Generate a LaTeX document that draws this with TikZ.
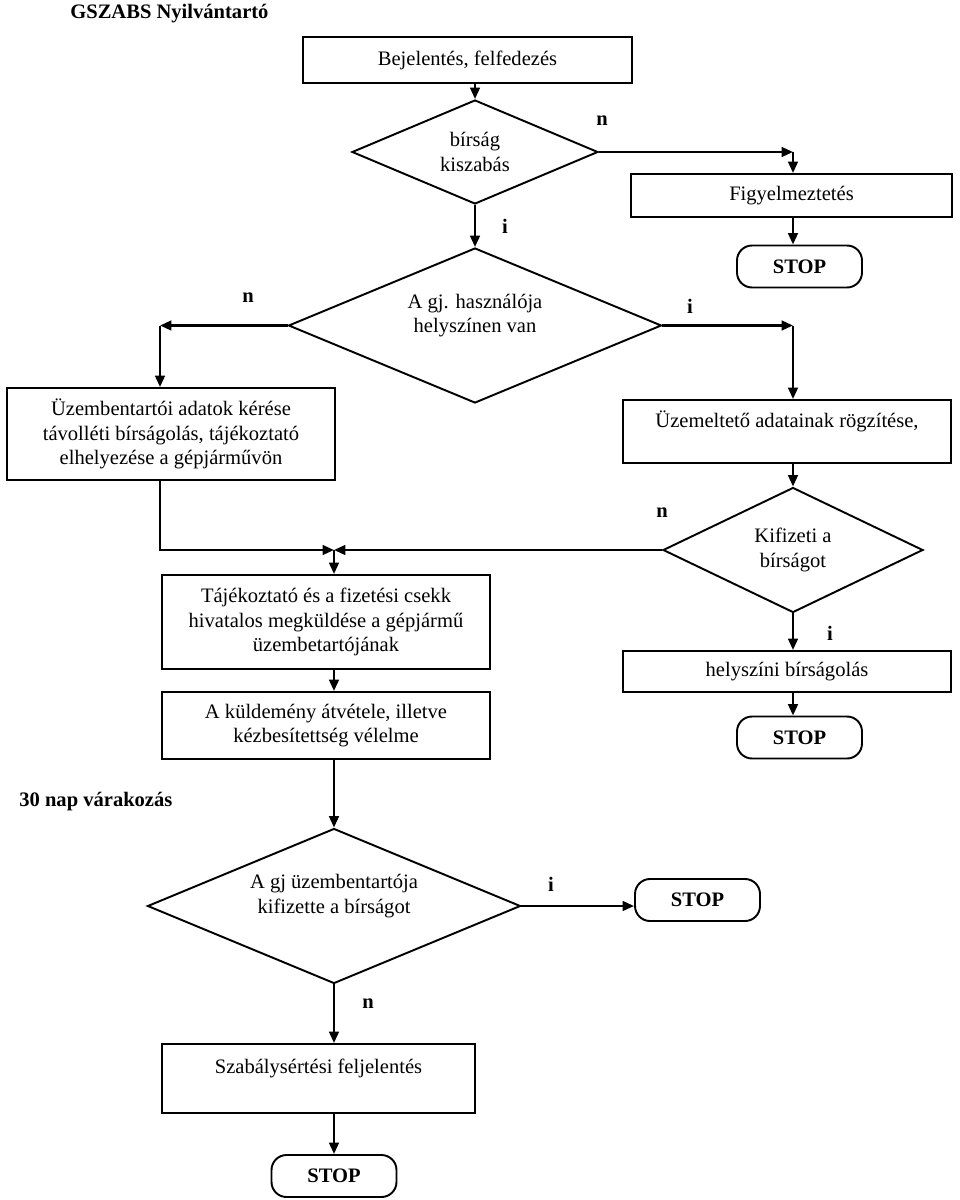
\documentclass[tikz,border=0pt]{standalone}
\usepackage{fontspec}
\setmainfont{Liberation Serif}
\usetikzlibrary{arrows.meta,shapes.geometric}

\begin{document}
\begin{tikzpicture}[x=0.02cm,y=-0.02cm,>={Triangle[length=6.5pt,width=5.5pt]},
font=\fontsize{11.7}{13.9}\selectfont,
box/.style 2 args={draw,line width=1.1pt,minimum width=#1*0.02cm,minimum height=#2*0.02cm,align=center,inner sep=0pt},
dia/.style 2 args={draw,diamond,aspect=2.4,line width=1.1pt,minimum width=#1*0.02cm,minimum height=#2*0.02cm,align=center,inner sep=0pt},
stopbox/.style={draw,line width=1.1pt,rounded corners=0.3cm,minimum width=2.5cm,minimum height=0.84cm,font=\fontsize{11.7}{13.9}\selectfont\bfseries},
yn/.style={font=\fontsize{11.7}{13.9}\selectfont\bfseries,inner sep=0pt},
arr/.style={line width=1.4pt,->}]
\useasboundingbox (0,0) rectangle (960,1200);
\node[yn,anchor=west] (title) at (70,14) {GSZABS Nyilvántartó};
\node[box={329}{46}] (b1) at (467.5,60) {Bejelentés, felfedezés};
\node[dia={246}{104}] (d1) at (475,152) {bírság\\kiszabás};
\node[box={321}{43}] (fig) at (791.5,195.5) {Figyelmeztetés};
\node[stopbox] (s1) at (799.5,266.5) {STOP};
\node[dia={373}{155}] (d2) at (475,325.5) {A gj. használója\\helyszínen van\\\mbox{}};
\node[box={328}{92}] (lbox) at (171,434) {Üzembentartói adatok kérése\\távolléti bírságolás, tájékoztató\\elhelyezése a gépjárművön};
\node[box={328}{63}] (rbox) at (787,431.5) {Üzemeltető adatainak rögzítése,\\\mbox{}};
\node[dia={260}{125}] (d3) at (793,550) {Kifizeti a\\bírságot};
\node[box={328}{94}] (taj) at (326,622) {Tájékoztató és a fizetési csekk\\hivatalos megküldése a gépjármű\\üzembetartójának};
\node[box={328}{41}] (hely) at (787,671.5) {helyszíni bírságolás};
\node[stopbox] (s2) at (799.5,737.5) {STOP};
\node[box={328}{67}] (kuld) at (326,725.5) {A küldemény átvétele, illetve\\kézbesítettség vélelme};
\node[yn,anchor=west] (wait) at (19,802) {30 nap várakozás};
\node[dia={373}{155}] (d4) at (334,906) {A gj üzembentartója\\kifizette a bírságot\\\mbox{}};
\node[stopbox] (s4) at (697.5,900) {STOP};
\node[box={313}{69}] (szab) at (318.5,1078.5) {Szabálysértési feljelentés\\\mbox{}};
\node[stopbox] (s3) at (334,1176) {STOP};
\node[yn] (n1) at (602,121) {n};
\node[yn] (i1) at (505,226) {i};
\node[yn] (n2) at (248,298) {n};
\node[yn] (i2) at (690,306) {i};
\node[yn] (n3) at (662,513) {n};
\node[yn] (i3) at (830,633) {i};
\node[yn] (i4) at (551,884) {i};
\node[yn] (n4) at (368,1004) {n};
\coordinate (k1) at (793,152);
\coordinate (k2) at (160,325.5);
\coordinate (k3) at (793,325.5);
\coordinate (j) at (334,550);
\draw[arr] (b1.south -| d1.north) -- (d1.north);
\draw[arr] (d1.east) -- (k1);
\draw[arr] (k1) -- (k1 |- fig.north);
\draw[arr] (k1 |- fig.south) -- (k1 |- s1.north);
\draw[arr] (d1.south) -- (d2.north);
\draw[arr] (d2.west) -- (k2);
\draw[arr] (k2) -- (k2 |- lbox.north);
\draw[arr] (d2.east) -- (k3);
\draw[arr] (k3) -- (k3 |- rbox.north);
\draw[arr] (k3 |- rbox.south) -- (d3.north);
\draw[arr] (k2 |- lbox.south) |- (j);
\draw[arr] (d3.west) -- (j);
\draw[arr] (j) -- (j |- taj.north);
\draw[arr] (d3.south) -- (d3.south |- hely.north);
\draw[arr] (d3.south |- hely.south) -- (d3.south |- s2.north);
\draw[arr] (j |- taj.south) -- (j |- kuld.north);
\draw[arr] (j |- kuld.south) -- (d4.north);
\draw[arr] (d4.east) -- (d4.east -| s4.west);
\draw[arr] (d4.south) -- (d4.south |- szab.north);
\draw[arr] (d4.south |- szab.south) -- (s3.north);
\end{tikzpicture}
\end{document}
